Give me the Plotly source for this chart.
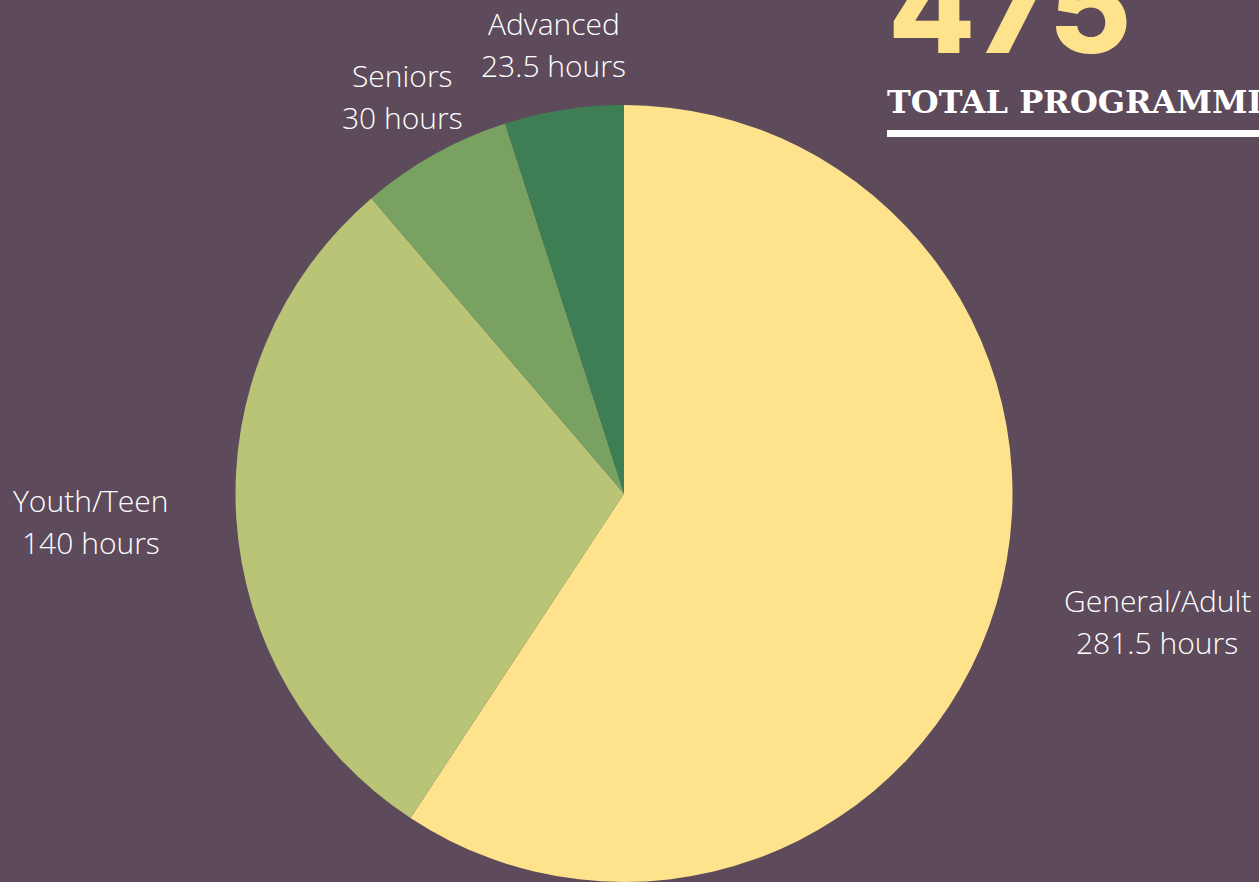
import math
import plotly.graph_objects as go

# ---- data ----
categories = ["General/Adult", "Youth/Teen", "Seniors", "Advanced"]
hours = [281.5, 140, 30, 23.5]
unit = "hours"
total_value = "475"
total_label = "TOTAL PROGRAMMING HOURS"

# ---- style ----
W, H = 1259, 882
BG = "#5D4B5B"
slice_colors = ["#FFE38C", "#B9C476", "#79A262", "#3E7E55"]
LABEL_FONT = dict(family="Open Sans", size=30, color="#FFFFFF", weight=300)

dom_x = [(624 - 388.5) / W, (624 + 388.5) / W]
dom_y = [0.0, 1 - 105 / H]

fig = go.Figure(
    go.Pie(
        labels=categories,
        values=hours,
        sort=False,
        direction="clockwise",
        rotation=0,
        marker=dict(colors=slice_colors, line=dict(width=0)),
        textinfo="none",
        hoverinfo="label+value",
        showlegend=False,
        domain=dict(x=dom_x, y=dom_y),
    )
)

# geometry of the pie, derived the same way plotly lays it out
box_w = W * (dom_x[1] - dom_x[0])
box_h = H * (dom_y[1] - dom_y[0])
r_px = min(box_w, box_h) / 2
cx_px = W * (dom_x[0] + dom_x[1]) / 2
cy_up_px = H * (dom_y[0] + dom_y[1]) / 2  # from bottom

total = sum(hours)
cum = 0.0
annotations = []
for name, v in zip(categories, hours):
    mid = (cum + v / 2) / total * 2 * math.pi
    cum += v
    s, c = math.sin(mid), math.cos(mid)
    if abs(s) > 0.9:
        # lateral labels: pushed out to the side
        px = cx_px + math.copysign(1.373, s) * r_px
        py = cy_up_px + c * r_px * 1.15
    else:
        px = cx_px + s * r_px * 1.17
        py = cy_up_px + c * r_px * 1.17
    for txt, shift in ((name, 21), (f"{v:g} {unit}", -21)):
        annotations.append(dict(
            x=px / W, y=py / H, xref="paper", yref="paper",
            text=txt, showarrow=False, xanchor="center", yanchor="middle",
            yshift=shift, font=LABEL_FONT, align="center",
        ))

# headline block (top right)
annotations.append(dict(
    x=886 / W, y=1 - 54 / H, xref="paper", yref="paper", text=total_value,
    showarrow=False, xanchor="left", yanchor="bottom", yshift=-32,
    font=dict(family="Inter", size=127, color="#FFE38C", weight=800),
))
annotations.append(dict(
    x=885 / W, y=1 - 102 / H, xref="paper", yref="paper", text=total_label,
    showarrow=False, xanchor="left", yanchor="middle",
    font=dict(family="DejaVu Serif", size=32, color="#FFFFFF", weight="bold"),
))

fig.update_layout(
    width=W, height=H,
    margin=dict(l=0, r=0, t=0, b=0),
    paper_bgcolor=BG, plot_bgcolor=BG,
    annotations=annotations,
    shapes=[dict(type="rect", xref="paper", yref="paper",
                 x0=887 / W, x1=1.0, y0=1 - 137 / H, y1=1 - 130 / H,
                 fillcolor="#FFFFFF", line=dict(width=0))],
)

fig.write_html(
    "out.html",
    config={"displayModeBar": False},
    post_script="document.body.style.margin='0';document.body.style.overflow='hidden';",
)
